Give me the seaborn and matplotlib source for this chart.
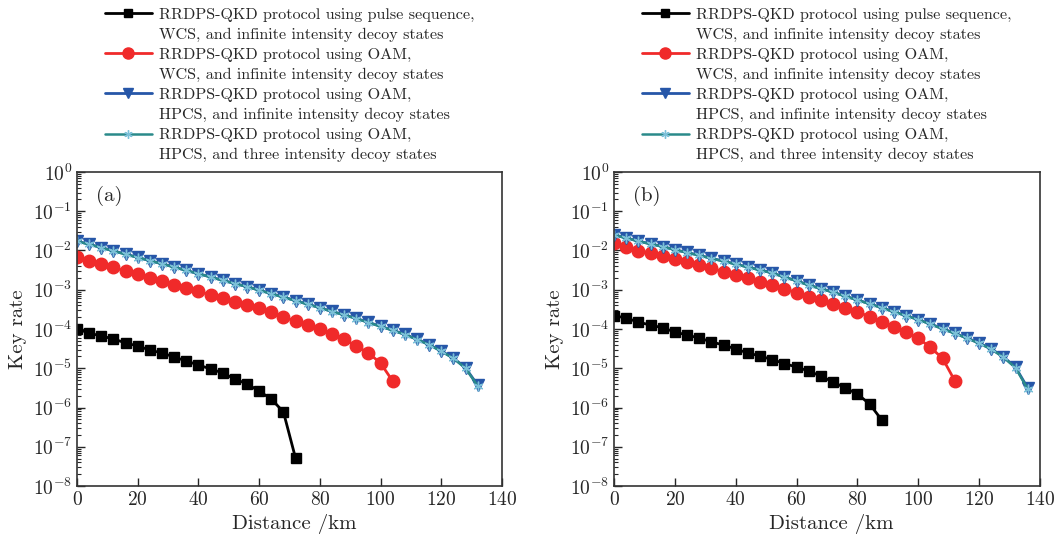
import numpy as np
import matplotlib
matplotlib.use("Agg")
import matplotlib.pyplot as plt
import seaborn as sns
from matplotlib.lines import Line2D
from matplotlib.ticker import LogLocator, NullFormatter

# ---- data (distance in km, key rate) ----
dist_black_a = list(range(0, 73, 4))
rate_black_a = [1.0e-4, 7.9e-5, 6.6e-5, 5.6e-5, 4.4e-5, 3.7e-5, 2.9e-5, 2.45e-5, 1.94e-5,
                1.53e-5, 1.21e-5, 9.6e-6, 7.6e-6, 5.3e-6, 4.0e-6, 2.6e-6, 1.65e-6, 7.7e-7, 5.1e-8]

dist_red_a = list(range(0, 105, 4))
rate_red_a = [6.8e-3, 5.5e-3, 4.6e-3, 3.7e-3, 3.0e-3, 2.5e-3, 2.04e-3, 1.66e-3, 1.35e-3,
              1.12e-3, 9.1e-4, 7.4e-4, 6.2e-4, 5.0e-4, 4.2e-4, 3.4e-4, 2.7e-4, 2.0e-4,
              1.6e-4, 1.26e-4, 1.0e-4, 7.5e-5, 5.5e-5, 3.7e-5, 2.45e-5, 1.35e-5, 4.7e-6]

dist_blue_a = list(range(0, 133, 4))
rate_blue_a = [1.74e-2, 1.44e-2, 1.19e-2, 9.8e-3, 8.1e-3, 6.7e-3, 5.5e-3, 4.6e-3, 3.8e-3,
               3.1e-3, 2.57e-3, 2.12e-3, 1.74e-3, 1.44e-3, 1.2e-3, 9.8e-4, 8.0e-4, 6.5e-4,
               5.3e-4, 4.3e-4, 3.5e-4, 2.8e-4, 2.3e-4, 1.86e-4, 1.48e-4, 1.17e-4, 9.3e-5,
               7.3e-5, 5.5e-5, 4.0e-5, 2.75e-5, 1.82e-5, 1.02e-5, 3.7e-6]

dist_teal_a = list(range(0, 133, 4))
rate_teal_a = [1.72e-2, 1.43e-2, 1.18e-2, 9.7e-3, 8.0e-3, 6.6e-3, 5.5e-3, 4.55e-3, 3.75e-3,
               3.1e-3, 2.55e-3, 2.1e-3, 1.73e-3, 1.43e-3, 1.19e-3, 9.7e-4, 7.9e-4, 6.4e-4,
               5.25e-4, 4.25e-4, 3.45e-4, 2.78e-4, 2.28e-4, 1.84e-4, 1.46e-4, 1.16e-4, 9.2e-5,
               7.2e-5, 5.4e-5, 3.95e-5, 2.7e-5, 1.78e-5, 1.0e-5, 3.5e-6]

dist_black_b = list(range(0, 89, 4))
rate_black_b = [2.2e-4, 1.9e-4, 1.5e-4, 1.26e-4, 1.07e-4, 8.4e-5, 7.0e-5, 5.9e-5, 4.7e-5,
                3.9e-5, 3.1e-5, 2.45e-5, 2.05e-5, 1.66e-5, 1.32e-5, 1.07e-5, 8.5e-6, 6.3e-6,
                4.45e-6, 3.15e-6, 2.2e-6, 1.23e-6, 4.8e-7]

dist_red_b = list(range(0, 113, 4))
rate_red_b = [1.53e-2, 1.26e-2, 9.9e-3, 8.5e-3, 7.2e-3, 6.0e-3, 5.2e-3, 4.3e-3, 3.5e-3,
              2.9e-3, 2.4e-3, 1.96e-3, 1.6e-3, 1.32e-3, 1.06e-3, 8.4e-4, 6.6e-4, 5.5e-4,
              4.3e-4, 3.5e-4, 2.75e-4, 2.05e-4, 1.54e-4, 1.15e-4, 8.6e-5, 5.8e-5, 3.4e-5,
              1.78e-5, 4.8e-6]

dist_blue_b = list(range(0, 137, 4))
rate_blue_b = [2.51e-2, 2.09e-2, 1.74e-2, 1.48e-2, 1.26e-2, 1.05e-2, 8.9e-3, 7.6e-3, 6.3e-3,
               5.4e-3, 4.5e-3, 3.8e-3, 3.2e-3, 2.7e-3, 2.1e-3, 1.7e-3, 1.32e-3, 1.07e-3,
               8.7e-4, 6.9e-4, 5.5e-4, 4.4e-4, 3.5e-4, 2.75e-4, 2.2e-4, 1.74e-4, 1.35e-4,
               1.02e-4, 7.8e-5, 5.9e-5, 4.4e-5, 3.1e-5, 1.95e-5, 1.05e-5, 3.1e-6]

dist_teal_b = list(range(0, 137, 4))
rate_teal_b = [2.48e-2, 2.07e-2, 1.72e-2, 1.46e-2, 1.25e-2, 1.04e-2, 8.8e-3, 7.5e-3, 6.25e-3,
               5.35e-3, 4.45e-3, 3.75e-3, 3.15e-3, 2.67e-3, 2.08e-3, 1.68e-3, 1.3e-3, 1.06e-3,
               8.6e-4, 6.8e-4, 5.45e-4, 4.35e-4, 3.45e-4, 2.72e-4, 2.17e-4, 1.72e-4, 1.33e-4,
               1.0e-4, 7.7e-5, 5.8e-5, 4.3e-5, 3.05e-5, 1.9e-5, 1.02e-5, 2.9e-6]

# each legend label has two lines
labels = [("RRDPS-QKD protocol using pulse sequence,", "WCS, and infinite intensity decoy states"),
          ("RRDPS-QKD protocol using OAM,", "WCS, and infinite intensity decoy states"),
          ("RRDPS-QKD protocol using OAM,", "HPCS, and infinite intensity decoy states"),
          ("RRDPS-QKD protocol using OAM,", "HPCS, and three intensity decoy states")]

sns.set_style("white")
plt.rcParams['font.family'] = ['cmr10', 'DejaVu Serif']
plt.rcParams['mathtext.fontset'] = 'cm'
plt.rcParams['axes.formatter.use_mathtext'] = True

# style for each series
styles = [dict(color="black", marker="s", markersize=7, mfc="black", mec="black", lw=2),
          dict(color="#f02a2a", marker="o", markersize=9, mfc="#f02a2a", mec="#f02a2a", lw=2),
          dict(color="#2656a8", marker="v", markersize=8, mfc="#2656a8", mec="#2656a8", lw=2),
          dict(color="#2a8a8a", marker=(6, 2, 0), markersize=7, mfc="#7cc0d8", mec="#7cc0d8",
               lw=1.8, mew=1.0)]

fig = plt.figure(figsize=(10.57, 5.42), dpi=100)
ax_a = fig.add_axes([77 / 1057, 1 - 486 / 542, 425 / 1057, 314 / 542])
ax_b = fig.add_axes([614 / 1057, 1 - 486 / 542, 426 / 1057, 314 / 542])

panels = [
    (ax_a, "(a)", [(dist_black_a, rate_black_a), (dist_red_a, rate_red_a),
                   (dist_blue_a, rate_blue_a), (dist_teal_a, rate_teal_a)]),
    (ax_b, "(b)", [(dist_black_b, rate_black_b), (dist_red_b, rate_red_b),
                   (dist_blue_b, rate_blue_b), (dist_teal_b, rate_teal_b)]),
]

for ax, tag, series in panels:
    for (xs, ys), st in zip(series, styles):
        sns.lineplot(x=xs, y=ys, ax=ax, color=st["color"], marker=st["marker"],
                     markersize=st["markersize"], markerfacecolor=st["mfc"],
                     markeredgecolor=st["mec"], linewidth=st["lw"],
                     markeredgewidth=st.get("mew", 1.0), legend=False)
    ax.set_yscale("log")
    ax.set_ylim(1e-8, 1)
    ax.set_xlim(0, 140)
    ax.set_xticks(range(0, 141, 20))
    ax.yaxis.set_major_locator(LogLocator(base=10, numticks=12))
    ax.yaxis.set_minor_locator(LogLocator(base=10, subs=np.arange(2, 10), numticks=12))
    ax.yaxis.set_minor_formatter(NullFormatter())
    ax.tick_params(axis="both", which="major", direction="in", length=6, width=1,
                   labelsize=14, top=False, right=False, left=True, bottom=True)
    ax.tick_params(axis="y", which="minor", direction="in", length=3, width=0.8, left=True)
    for sp in ax.spines.values():
        sp.set_color("#333333")
        sp.set_linewidth(1.2)
    ax.set_xlabel("Distance /km", fontsize=15)
    ax.set_ylabel("Key rate", fontsize=15, labelpad=4)
    ax.xaxis.set_label_coords(0.51, -0.09)
    ax.text(0.045, 0.955, tag, transform=ax.transAxes, fontsize=15, va="top", ha="left")

    # handle sits on the first line of each label, blank handle on the second
    handles, texts = [], []
    for st, (l1, l2) in zip(styles, labels):
        handles.append(Line2D([], [], color=st["color"], marker=st["marker"],
                              markersize=st["markersize"] - 1, markerfacecolor=st["mfc"],
                              markeredgecolor=st["mec"], linewidth=st["lw"],
                              markeredgewidth=st.get("mew", 1.0)))
        texts.append(l1)
        handles.append(Line2D([], [], color="none"))
        texts.append(l2)
    x0 = ax.get_position().x0 + 28 / 1057
    ax.legend(handles, texts, loc="upper left", bbox_to_anchor=(x0, 0.9865),
              bbox_transform=fig.transFigure, frameon=False, fontsize=11.6,
              handlelength=2.9, handletextpad=0.45, labelspacing=0.36,
              borderpad=0, borderaxespad=0)

fig.savefig("out.png", dpi=100)
